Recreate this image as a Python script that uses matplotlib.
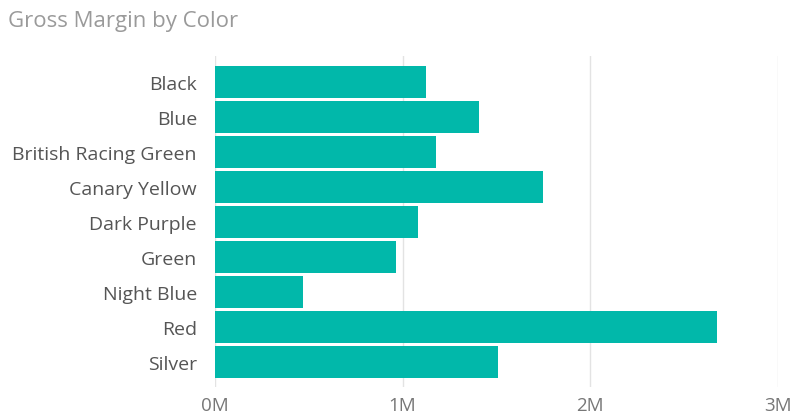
import matplotlib.pyplot as plt
from matplotlib.ticker import FuncFormatter

colors = ['Black', 'Blue', 'British Racing Green', 'Canary Yellow', 'Dark Purple',
          'Green', 'Night Blue', 'Red', 'Silver']
gross_margin = [1.125, 1.408, 1.179, 1.749, 1.081, 0.965, 0.469, 2.675, 1.506]  # millions
xticks = [0, 1, 2, 3]

plt.rcParams['font.family'] = ['Open Sans', 'DejaVu Sans']

fig = plt.figure(figsize=(7.94, 4.14), dpi=100)
ax = fig.add_axes([215 / 794, 1 - 387.5 / 414, (778 - 215) / 794, (387.5 - 56.8) / 414])

ax.barh(range(len(colors)), gross_margin, height=0.9, color='#01B8AA', zorder=3)

ax.set_xlim(0, 3)
ax.set_ylim(8.7, -0.75)
ax.set_xticks(xticks)
ax.xaxis.set_major_formatter(FuncFormatter(lambda v, p: f'{v:.0f}M'))
ax.set_yticks(range(len(colors)))
ax.set_yticklabels(colors)

ax.grid(axis='x', color='#e3e3e3', linewidth=1, zorder=0)
for s in ax.spines.values():
    s.set_visible(False)
ax.tick_params(axis='y', length=0, labelsize=14, colors='#555555', pad=13)
ax.tick_params(axis='x', length=0, labelsize=13.5, colors='#777777', pad=7)

fig.text(8 / 794, 1 - 22 / 414, 'Gross Margin by Color', fontsize=16, color='#9a9a9a',
         va='center', ha='left')

fig.savefig('out.png', dpi=100)
